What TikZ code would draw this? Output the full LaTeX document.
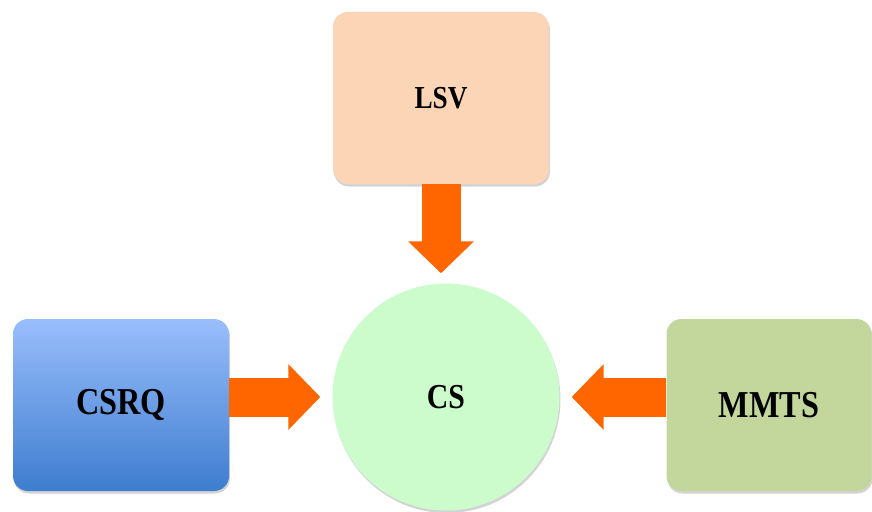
\documentclass[tikz,border=0pt]{standalone}
\usepackage{fontspec}
\setmainfont{Liberation Serif}[FakeStretch=0.85]
\usetikzlibrary{arrows.meta,shadows}

\definecolor{peach}{HTML}{FBD5B5}
\definecolor{mint}{HTML}{CCFCCC}
\definecolor{olive}{HTML}{C3D69B}
\definecolor{skytop}{HTML}{99BEFC}
\definecolor{skybot}{HTML}{3E7DCF}
\definecolor{flame}{HTML}{FF6600}

\begin{document}
\begin{tikzpicture}[x=1pt, y=-1pt,
    box/.style={rounded corners=15pt, inner sep=0pt, font=\bfseries,
      drop shadow={opacity=0.35, shadow xshift=1pt, shadow yshift=-2.5pt}},
    blockarrow/.style={draw=flame, line width=39pt,
      -{Triangle[width=64pt, length=32pt, fill=flame]}}]

    % Fix the canvas
    \useasboundingbox (0,0) rectangle (872,511);

    % Draw the centre circle
    \node[box, circle, fill=mint, minimum size=227pt,
      font=\fontsize{35}{40}\bfseries] (cs) at (446,397) {CS};

    % Draw the three boxes
    \node[box, fill=peach, minimum width=216pt, minimum height=172pt,
      font=\fontsize{32}{36}\bfseries] (lsv) at (441,98) {LSV};
    \node[box, top color=skytop, bottom color=skybot, minimum width=216pt,
      minimum height=172pt, font=\fontsize{38}{42}\bfseries] (csrq) at (121,405) {CSRQ};
    \node[box, fill=olive, minimum width=205pt, minimum height=172pt,
      font=\fontsize{38}{42}\bfseries] (mmts) at (769,405) {MMTS};

    % Draw block arrows into CS
    \draw[blockarrow, shorten >=10pt] (lsv.south) -- (lsv.south |- cs.north);
    \draw[blockarrow, shorten >=12pt] (csrq.east |- cs.center) -- (cs.west);
    \draw[blockarrow, shorten >=12pt] (mmts.west |- cs.center) -- (cs.east);
\end{tikzpicture}
\end{document}
